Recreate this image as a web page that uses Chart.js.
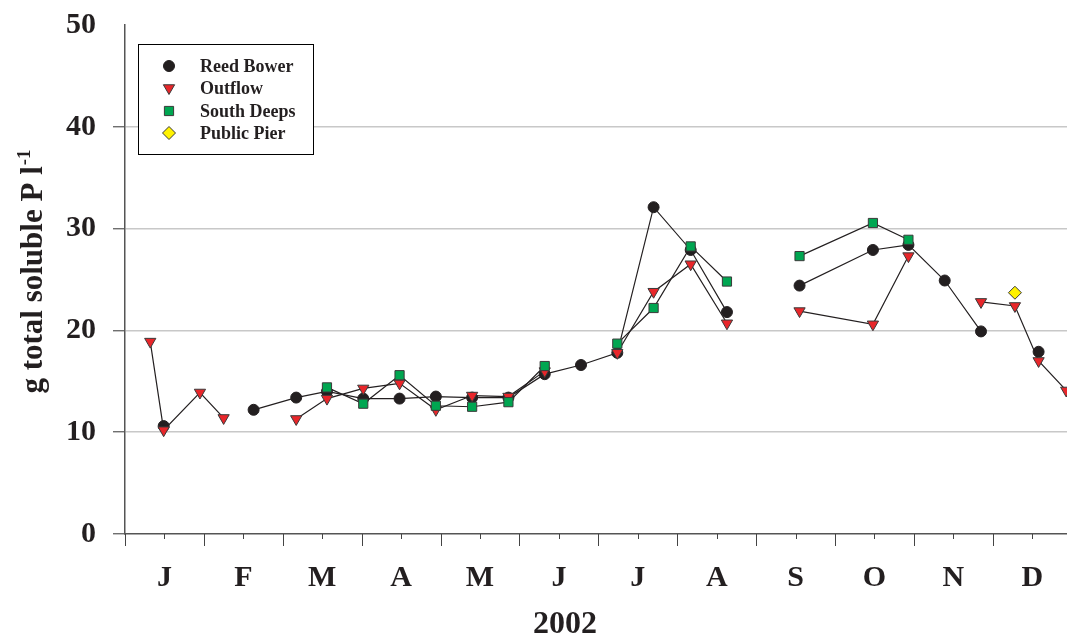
<!DOCTYPE html>
<html>
<head>
<meta charset="utf-8">
<script src="https://cdn.jsdelivr.net/npm/chart.js@4.4.0/dist/chart.umd.min.js"></script>
<style>
html,body{margin:0;padding:0;background:#fff;overflow:hidden}
#wrap{width:1067px;height:640px;position:relative}
canvas{display:block}
</style>
</head>
<body>
<div id="wrap"><canvas id="mychart"></canvas></div>
<script>
const months=['J','F','M','A','M','J','J','A','S','O','N','D'];
const yTicks=[0,10,20,30,40,50];
// sampling dates, in months from 1 Jan 2002 (8.1 is an empty date that breaks the lines)
const dates=[0.32,0.49,0.95,1.25,1.63,2.17,2.56,3.02,3.48,3.94,4.40,4.86,5.32,5.78,6.24,6.70,7.17,7.63,8.1,8.55,9.48,9.93,10.39,10.85,11.28,11.58,11.93];
const reedBower=[null,10.6,null,null,12.2,13.4,14.0,13.3,13.3,13.5,13.4,13.4,15.7,16.6,17.8,32.1,27.9,21.8,null,24.4,27.9,28.4,24.9,19.9,null,17.9,null];
const outflow=[18.9,10.2,13.9,11.4,null,11.3,13.3,14.3,14.8,12.2,13.6,13.5,16.0,null,17.8,23.8,26.5,20.7,null,21.9,20.6,27.3,null,22.8,22.4,17.0,14.1];
const southDeeps=[null,null,null,null,null,null,14.4,12.8,15.6,12.6,12.5,12.95,16.5,null,18.7,22.2,28.25,24.8,null,27.3,30.55,28.9,null,null,null,null,null];
const publicPier=[null,null,null,null,null,null,null,null,null,null,null,null,null,null,null,null,null,null,null,null,null,null,null,null,23.7,null,null];

const serif='"Liberation Serif","Times New Roman",serif';
const ink='#231f20';

function pts(vals){
	return dates.map((d,i)=>({x:d,y:vals[i]}));
}

const extras={
	id:'extras',
	afterDraw(chart){
		const ctx=chart.ctx;
		const xs=chart.scales.x;
		const area=chart.chartArea;
		ctx.save();
		// month ticks on the x axis
		ctx.strokeStyle='#444';
		ctx.lineWidth=1;
		for(let i=0;i<=12;i++){
			let x=Math.round(xs.getPixelForValue(i))+0.5;
			if(x<=area.right+1){
				ctx.beginPath();ctx.moveTo(x,area.bottom);ctx.lineTo(x,area.bottom+12);ctx.stroke();
			}
			let xm=Math.round(xs.getPixelForValue(i+0.5))+0.5;
			if(xm<=area.right+1){
				ctx.beginPath();ctx.moveTo(xm,area.bottom);ctx.lineTo(xm,area.bottom+5);ctx.stroke();
			}
		}
		// x title
		ctx.fillStyle=ink;
		ctx.font='bold 32px '+serif;
		ctx.textAlign='center';
		ctx.textBaseline='middle';
		ctx.fillText('2002',565,625);
		// y title with superscript
		ctx.translate(42,272);
		ctx.rotate(-Math.PI/2);
		ctx.font='bold 31px '+serif;
		let main='g total soluble P l';
		let w=ctx.measureText(main).width;
		ctx.font='bold 19px '+serif;
		let sup='-1';
		let s=ctx.measureText(sup).width;
		let x0=-(w+s)/2;
		ctx.textAlign='left';
		ctx.textBaseline='alphabetic';
		ctx.font='bold 31px '+serif;
		ctx.fillText(main,x0,0);
		ctx.font='bold 19px '+serif;
		ctx.fillText(sup,x0+w+1,-12);
		ctx.restore();

		// legend box
		ctx.save();
		ctx.strokeStyle='#000';
		ctx.lineWidth=1;
		ctx.fillStyle='#fff';
		ctx.fillRect(138.5,44.5,175,110);
		ctx.strokeRect(138.5,44.5,175,110);
		const rows=[66,88,111,133];
		chart.data.datasets.forEach((ds,i)=>{
			ctx.fillStyle=ds.pointBackgroundColor;
			ctx.strokeStyle=ds.pointBorderColor;
			ctx.lineWidth=1;
			Chart.helpers.drawPoint(ctx,{pointStyle:ds.pointStyle,rotation:ds.pointRotation||0,radius:ds.pointRadius,borderWidth:1},169,rows[i]);
			ctx.fillStyle=ink;
			ctx.font='bold 18px '+serif;
			ctx.textAlign='left';
			ctx.textBaseline='middle';
			ctx.fillText(ds.label,200,rows[i]+1);
		});
		ctx.restore();
	}
};

var ctx=document.getElementById('mychart').getContext('2d');
var myChart=new Chart(ctx,{
	type:'line',
	data:{
		datasets:[{
			label:'Reed Bower',
			data:pts(reedBower),
			order:3,
			borderColor:ink,
			borderWidth:1.2,
			pointStyle:'circle',
			pointRadius:5.5,
			pointBackgroundColor:ink,
			pointBorderColor:ink,
			pointBorderWidth:1
		},
		{
			label:'Outflow',
			data:pts(outflow),
			order:2,
			borderColor:ink,
			borderWidth:1.2,
			pointStyle:'triangle',
			pointRotation:180,
			pointRadius:6.5,
			pointBackgroundColor:'#e8262a',
			pointBorderColor:'#3a3a3a',
			pointBorderWidth:1
		},
		{
			label:'South Deeps',
			data:pts(southDeeps),
			order:1,
			borderColor:ink,
			borderWidth:1.2,
			pointStyle:'rect',
			pointRadius:6.5,
			pointBackgroundColor:'#00a651',
			pointBorderColor:'#3a3a3a',
			pointBorderWidth:1
		},
		{
			label:'Public Pier',
			data:pts(publicPier),
			order:0,
			borderColor:ink,
			borderWidth:1.2,
			pointStyle:'rectRot',
			pointRadius:6.5,
			pointBackgroundColor:'#fff200',
			pointBorderColor:'#3a3a3a',
			pointBorderWidth:1
		}]
	},
	options:{
		responsive:true,
		maintainAspectRatio:false,
		animation:false,
		spanGaps:false,
		layout:{autoPadding:false,padding:{top:25,left:0,right:0,bottom:0}},
		plugins:{legend:{display:false},tooltip:{enabled:false}},
		scales:{
			x:{
				type:'linear',
				min:0,
				max:11.94,
				afterFit(scale){scale.height=106;scale.paddingLeft=0;scale.paddingRight=0;},
				afterBuildTicks(scale){scale.ticks=months.map((m,i)=>({value:i+0.5}));},
				grid:{display:false,drawTicks:false},
				border:{display:true,color:'#555',width:1.5},
				ticks:{
					autoSkip:false,
					maxRotation:0,
					padding:26,
					color:ink,
					font:{family:serif,size:30,weight:'bold'},
					callback:(v)=>months[Math.floor(v)]
				}
			},
			y:{
				min:0,
				max:50,
				afterFit(scale){scale.width=125;scale.paddingTop=0;scale.paddingBottom=0;},
				afterBuildTicks(scale){scale.ticks=yTicks.map(v=>({value:v}));},
				grid:{
					color:(c)=>(c.tick&&(c.tick.value===0||c.tick.value===50))?'rgba(0,0,0,0)':'#c8c8c8',
					tickColor:(c)=>(c.tick&&c.tick.value===50)?'rgba(0,0,0,0)':'#555',
					lineWidth:1.5,
					tickLength:12,
					tickWidth:1.2
				},
				border:{display:true,color:'#555',width:1.5},
				ticks:{
					padding:17,
					color:ink,
					font:{family:serif,size:30,weight:'bold'}
				}
			}
		}
	},
	plugins:[extras]
});
</script>
</body>
</html>
